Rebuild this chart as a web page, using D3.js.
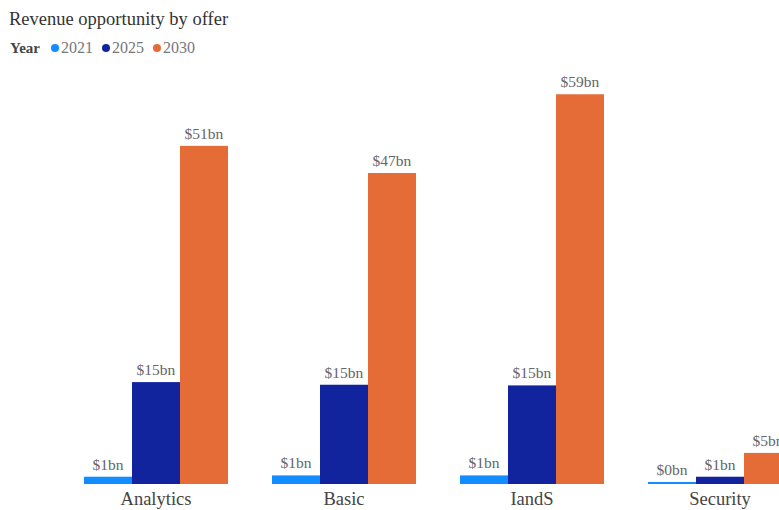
<!DOCTYPE html>
<html>
<head>
<meta charset="utf-8">
<script src="https://cdn.jsdelivr.net/npm/d3@7"></script>
<style>
    body { margin: 0; background: #fff; }
    svg { display: block; font-family: "Liberation Serif", "Times New Roman", serif; }
</style>
</head>
<body>
<div class="chart"></div>
<script>
// Data
let offers = ["Analytics", "Basic", "IandS", "Security"];
let years = ["2021", "2025", "2030"];
let revenue2021 = [1.1, 1.3, 1.3, 0.3];
let revenue2025 = [15.4, 15.0, 14.9, 1.1];
let revenue2030 = [51.1, 47.0, 58.9, 4.7];
let yearColors = ["#118DFF", "#12239E", "#E66C37"];

let svgWidth = 779;
let svgHeight = 510;
let serif = "\"Liberation Serif\", \"Times New Roman\", serif";

let svg = d3.select(".chart")
    .append("svg")
    .attr("width", svgWidth)
    .attr("height", svgHeight);

// Rows for each offer
let series = [revenue2021, revenue2025, revenue2030];
let rows = offers.map((o, i) => ({
    offer: o,
    values: years.map((y, j) => ({ year: y, value: series[j][i] }))
}));

// Scales
let xScale = d3.scaleBand()
    .domain(offers)
    .range([62, 814])
    .paddingInner(0.234)
    .paddingOuter(0.117);

let xInner = d3.scaleBand()
    .domain(years)
    .range([0, xScale.bandwidth()]);

let yScale = d3.scaleLinear()
    .domain([0, 60])
    .range([484, 87]);

let colorScale = d3.scaleOrdinal()
    .domain(years)
    .range(yearColors);

// Title
svg.append("text")
    .attr("x", 9)
    .attr("y", 25)
    .attr("font-size", 18.5)
    .attr("fill", "#333")
    .text("Revenue opportunity by offer");

// Legend
let legend = svg.append("g").attr("transform", "translate(10, 53)");
legend.append("text")
    .attr("font-size", 15)
    .attr("font-weight", "bold")
    .attr("fill", "#444")
    .text("Year");

let legendX = [45, 96, 147];
years.forEach((y, i) => {
    legend.append("circle")
        .attr("cx", legendX[i])
        .attr("cy", -5)
        .attr("r", 4)
        .attr("fill", colorScale(y));
    legend.append("text")
        .attr("x", legendX[i] + 6)
        .attr("font-size", 16)
        .attr("fill", "#777")
        .text(y);
});

// Bars
let groups = svg.selectAll(".offer")
    .data(rows)
    .enter()
    .append("g")
    .attr("class", "offer")
    .attr("transform", d => `translate(${xScale(d.offer)}, 0)`);

groups.selectAll("rect")
    .data(d => d.values)
    .enter()
    .append("rect")
    .attr("x", d => xInner(d.year))
    .attr("y", d => yScale(d.value))
    .attr("width", xInner.bandwidth())
    .attr("height", d => yScale(0) - yScale(d.value))
    .attr("fill", d => colorScale(d.year));

// Data labels
groups.selectAll(".label")
    .data(d => d.values)
    .enter()
    .append("text")
    .attr("class", "label")
    .attr("x", d => xInner(d.year) + xInner.bandwidth() / 2)
    .attr("y", d => yScale(d.value) - 7)
    .attr("text-anchor", "middle")
    .attr("font-size", 15.5)
    .attr("fill", "#666")
    .text(d => "$" + d3.format(".0f")(d.value) + "bn");

// Category axis labels
let xAxis = d3.axisBottom(xScale).tickSize(0).tickPadding(8);
let axisGroup = svg.append("g")
    .attr("transform", "translate(0, 484)")
    .call(xAxis);
axisGroup.select(".domain").remove();
axisGroup.selectAll("text")
    .attr("font-family", serif)
    .attr("font-size", 18.5)
    .attr("fill", "#444");
</script>
</body>
</html>
